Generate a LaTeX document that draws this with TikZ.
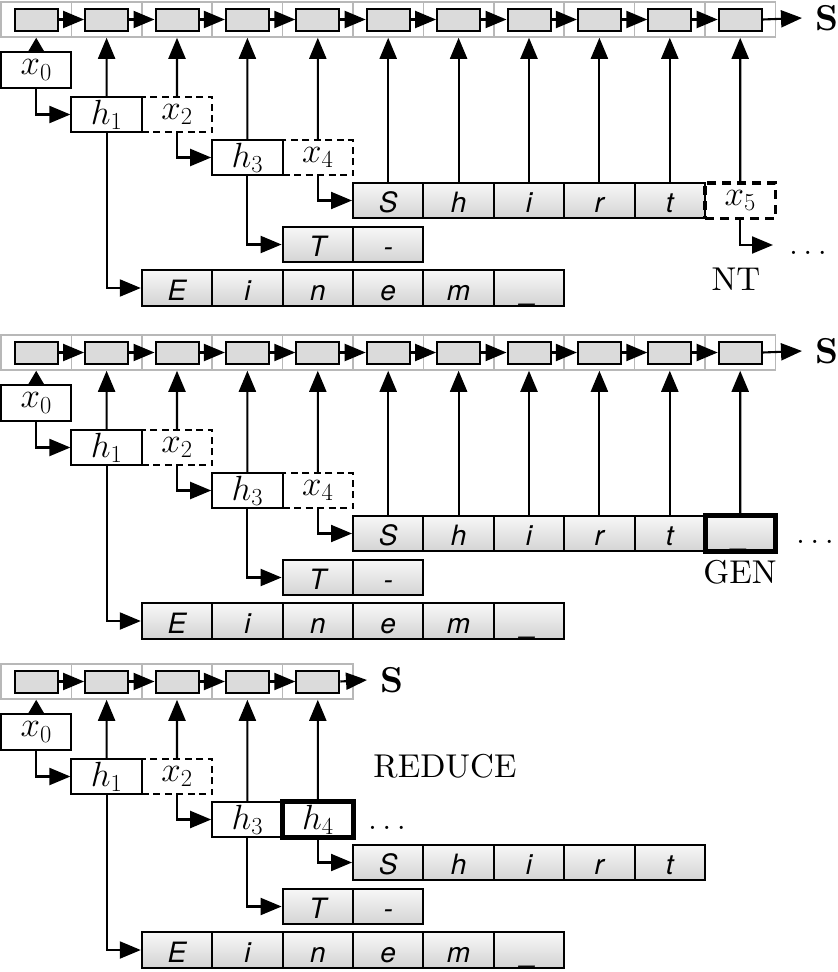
\RequirePackage{fix-cm}
\documentclass[tikz,border=0pt]{standalone}
\usepackage{fontspec}
\setmainfont{lmroman10-regular.otf}[BoldFont=lmroman10-bold.otf]
\newfontfamily\cellfont{TeX Gyre Heros}
\usetikzlibrary{arrows.meta}
\tikzset{
  stackcell/.style={draw=black!28, line width=1.5pt, fill=white, minimum width=70.4pt, minimum height=35pt, inner sep=0pt},
  stackin/.style={draw=black, fill=black!14, line width=2pt, minimum width=43pt, minimum height=22pt, inner sep=0pt},
  lbl/.style={draw, line width=2pt, minimum width=70.4pt, minimum height=35.5pt, inner sep=0pt, font=\fontsize{35}{40}\selectfont},
  dlbl/.style={lbl, dash pattern=on 7pt off 4.5pt},
  chr/.style={draw, line width=2pt, top color=black!3, bottom color=black!17, minimum width=70.4pt, minimum height=35.5pt, inner sep=0pt, text height=24pt, text depth=0pt, font=\cellfont\itshape\fontsize{28}{34}\selectfont},
  arr/.style={-{Triangle[length=21pt,width=17pt]}, line width=2.1pt},
  sarr/.style={-{Triangle[length=15pt,width=17pt]}, line width=2.1pt},
  ann/.style={font=\fontsize{33}{40}\selectfont, inner sep=0pt},
  slbl/.style={font=\bfseries\fontsize{36}{40}\selectfont, inner xsep=13pt, inner ysep=0pt, anchor=west},
}
\newcommand\stackrow[1]{%
  \foreach \i in {0,...,#1}{%
    \node[stackcell] (t\i) at ({36.2+70.4*\i},19.5) {};
    \node[stackin] (n\i) at ({36.2+70.4*\i},19.5) {};
  }%
  \foreach \i in {1,...,#1}{%
    \pgfmathtruncatemacro\k{\i-1}%
    \draw[arr] (n\k.east) -- (n\i.west);
  }%
}
\newcommand\commonpart{%
  \node[lbl] (x0) at (36.2,70) {$x_0$};
  \node[dlbl] (x2) at (177,114.5) {$x_2$};
  \node[lbl] (h1) at (106.6,114.5) {$h_1$};
  \node[lbl] (h3) at (247.4,157.5) {$h_3$};
  \foreach \c/\j/\t in {5/0/S,6/1/h,7/2/i,8/3/r,9/4/t}
    \node[chr] (W\j) at ({36.2+70.4*\c},200.5) {\t};
  \foreach \c/\j/\t in {4/0/T,5/1/-}
    \node[chr] (T\j) at ({36.2+70.4*\c},244.5) {\t};
  \foreach \c/\j/\t in {2/0/E,3/1/i,4/2/n,5/3/e,6/4/m,7/5/\_}
    \node[chr] (E\j) at ({36.2+70.4*\c},288) {\t};
  \draw[sarr] (x0.north) -- (t0.south);
  \draw[arr] (h1.north) -- (t1.south);
  \draw[arr] (x2.north) -- (t2.south);
  \draw[arr] (h3.north) -- (t3.south);
  \draw[arr] (x0.south) |- (h1.west);
  \draw[arr] (x2.south) |- (h3.west);
  \draw[arr] (h3.south) |- (T0.west);
  \draw[arr] (h1.south) |- (E0.west);
}
\newcommand\fullpart{%
  \stackrow{10}%
  \node[slbl] (S) at (802,18) {S};
  \draw[arr] (n10.east) -- (S.west);
  \commonpart
  \node[dlbl] (x4) at (317.8,157.5) {$x_4$};
  \draw[arr] (x4.north) -- (t4.south);
  \draw[arr] (x4.south) |- (W0.west);
  \foreach \j in {0,...,4}{%
    \pgfmathtruncatemacro\k{\j+5}%
    \draw[arr] (W\j.north) -- (t\k.south);
  }%
}
\begin{document}
\begin{tikzpicture}[x=1pt,y=-1pt]
\useasboundingbox (0,0) rectangle (838,972);
% panel 1: NT
\begin{scope}[name prefix=a-]
  \fullpart
  \node[lbl, line width=3.5pt, dash pattern=on 9pt off 6pt] (x5) at (740.2,200.5) {$x_5$};
  \draw[arr] (x5.north) -- (t10.south);
  \coordinate (e1) at (773,245);
  \draw[arr] (x5.south) |- (e1);
  \node[ann] (d) at (808,253) {$\dots$};
  \node[ann] (NT) at (736,279) {NT};
\end{scope}
% panel 2: GEN
\begin{scope}[shift={(0,333)}, name prefix=b-]
  \fullpart
  \node[chr, line width=5pt] (g) at (740.2,200.5) {\_};
  \draw[arr] (g.north) -- (t10.south);
  \node[ann] (d) at (815,209) {$\dots$};
  \node[ann] (GEN) at (740,239) {GEN};
\end{scope}
% panel 3: REDUCE
\begin{scope}[shift={(0,662)}, name prefix=c-]
  \stackrow{4}%
  \node[slbl] (S) at (367,18) {S};
  \draw[arr] (n4.east) -- (S.west);
  \commonpart
  \node[lbl, line width=5pt] (h4) at (317.8,157.5) {$h_4$};
  \draw[arr] (h4.north) -- (t4.south);
  \draw[arr] (h4.south) |- (W0.west);
  \node[ann] (d) at (387,166) {$\dots$};
  \node[ann] (R) at (445,104) {REDUCE};
\end{scope}
\end{tikzpicture}
\end{document}
